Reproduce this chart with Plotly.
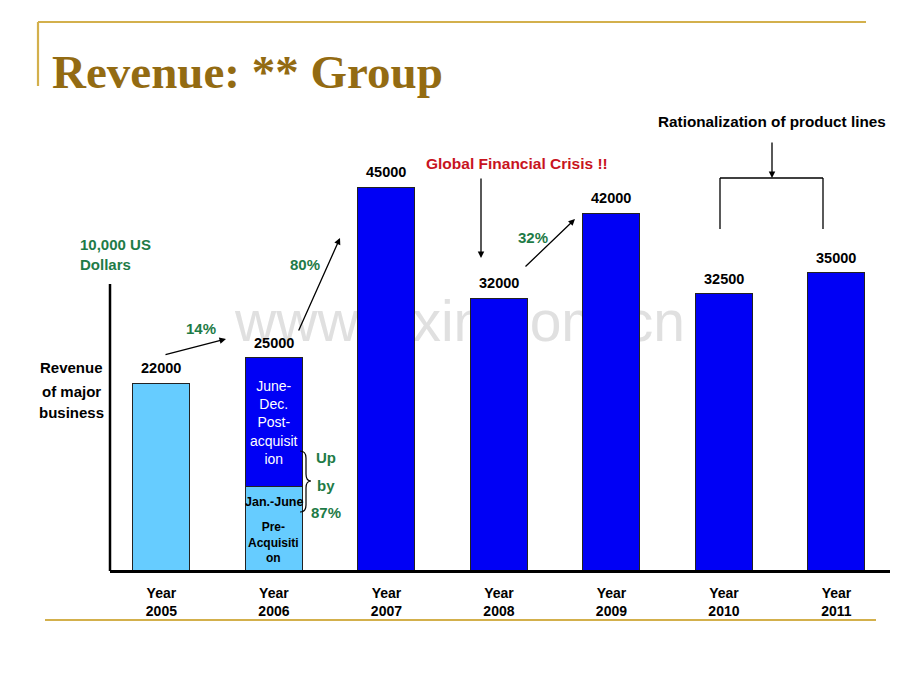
import plotly.graph_objects as go

W, H = 920, 690

# ---------------- data ----------------
years = ['2005', '2006', '2007', '2008', '2009', '2010', '2011']
tick_labels = ['<b>Year<br>2005</b>', '<b>Year<br>2006</b>', '<b>Year<br>2007</b>',
               '<b>Year<br>2008</b>', '<b>Year<br>2009</b>', '<b>Year<br>2010</b>',
               '<b>Year<br>2011</b>']
light_part = [22000, 9800, None, None, None, None, None]      # 2005 + 2006 Jan.-June (pre-acquisition)
dark_part = [None, 15200, 45000, 32000, 42000, 32500, 35000]  # 2006 June-Dec. (post-acquisition) + later years
totals = [22000, 25000, 45000, 32000, 42000, 32500, 35000]
watermark = 'www.zixin.com.cn'

# ---------------- helpers ----------------
def px(x):
    return x / W

def py(y):
    return 1 - y / H

FONT = 'Liberation Sans, Arial, sans-serif'
SERIF = 'Liberation Serif, Times New Roman, serif'
GREEN = '#1E7B47'
RED = '#C8141E'
GOLD = '#D3B04C'
TITLE = '#936B12'
LIGHT = '#66CCFF'
BLUE = '#0000F5'

PLOT_LEFT, PLOT_RIGHT = 110, 890
PLOT_BOTTOM, PLOT_TOP = 570, 80
SCALE = 0.0085  # px per unit
YMAX = (PLOT_BOTTOM - PLOT_TOP) / SCALE

fig = go.Figure()
# watermark in the base (lowest) subplot so it sits behind the bars
fig.add_trace(go.Scatter(x=[460], y=[327], mode='text', text=[watermark], xaxis='x', yaxis='y',
                         textfont=dict(family=FONT, size=57, color='#E0E0E0'),
                         cliponaxis=False, hoverinfo='skip'))
fig.add_trace(go.Bar(x=years, y=light_part, xaxis='x2', yaxis='y2',
                     marker=dict(color=LIGHT, line=dict(color='#222', width=1)), hoverinfo='skip'))
fig.add_trace(go.Bar(x=years, y=dark_part, xaxis='x2', yaxis='y2',
                     marker=dict(color=BLUE, line=dict(color='#222', width=1)), hoverinfo='skip'))

annotations = []

def ann(text, x, y, size=15, color='black', bold=True, family=FONT, **kw):
    t = f'<b>{text}</b>' if bold else text
    d = dict(text=t, x=px(x), y=py(y), xref='paper', yref='paper', showarrow=False,
             xanchor='center', yanchor='middle',
             font=dict(family=family, size=size, color=color))
    d.update(kw)
    annotations.append(d)

def arrow(tail, head, width=1.3):
    annotations.append(dict(text='', x=px(head[0]), y=py(head[1]), xref='paper', yref='paper',
                            ax=tail[0] - head[0], ay=tail[1] - head[1], axref='pixel', ayref='pixel',
                            showarrow=True, arrowhead=2, arrowsize=1, arrowwidth=width,
                            arrowcolor='black'))

# value labels from data (x given as category index)
for i, tot in enumerate(totals):
    annotations.append(dict(text=f'<b>{tot}</b>', x=i, y=tot, xref='x2', yref='y2',
                            xanchor='center', yanchor='bottom', yshift=5, showarrow=False,
                            font=dict(family=FONT, size=14.5, color='black')))

# inside 2006 bar
annotations.append(dict(text='June-<br>Dec.<br>Post-<br>acquisit<br>ion', x=1,
                        y=light_part[1] + dark_part[1] / 2, xref='x2', yref='y2', showarrow=False,
                        xanchor='center', yanchor='middle',
                        font=dict(family=FONT, size=14, color='white')))
annotations.append(dict(text='<b>Jan.-June</b>', x=1, y=light_part[1], xref='x2', yref='y2',
                        xanchor='center', yanchor='top', yshift=-6, showarrow=False,
                        font=dict(family=FONT, size=12.5, color='black')))
annotations.append(dict(text='<b>Pre-<br>Acquisiti<br>on</b>', x=1, y=0, xref='x2', yref='y2',
                        xanchor='center', yanchor='bottom', yshift=3, showarrow=False,
                        font=dict(family=FONT, size=12, color='black')))

# title
ann('Revenue: ** Group', 50, 72, size=47, color=TITLE, family=SERIF, xanchor='left')

# side texts
ann('10,000 US<br>Dollars', 78, 255, color=GREEN, xanchor='left', align='left')
ann('Revenue', 71, 367)
ann('of major', 71, 391)
ann('business', 71, 412)

# growth notes
ann('14%', 201, 328, color=GREEN)
arrow((164, 355), (226, 339))
ann('80%', 305, 264, color=GREEN)
arrow((298, 332), (340, 238))
ann('32%', 533, 238, color=GREEN)
arrow((524, 268), (575, 219))

ann('Up', 326, 457, color=GREEN)
ann('by', 326, 485, color=GREEN)
ann('87%', 326, 512, color=GREEN)

ann('Global Financial Crisis !!', 517, 163, size=15.5, color=RED)
arrow((481, 177), (481, 258))

ann('Rationalization of product lines', 772, 121, size=15.3)
arrow((772, 141), (772, 178))

shapes = []
def line(x0, y0, x1, y1, color='black', width=1.3):
    shapes.append(dict(type='line', xref='paper', yref='paper', x0=px(x0), y0=py(y0),
                       x1=px(x1), y1=py(y1), line=dict(color=color, width=width)))

# slide decorations
line(38, 22, 866, 22, GOLD, 2.2)
line(38, 22, 38, 86, GOLD, 2.2)
line(45, 620, 876, 620, GOLD, 2.2)
# y axis stub
line(110, 571, 110, 284, 'black', 2.5)
# bracket
line(720, 178, 823, 178)
line(720, 178, 720, 229)
line(823, 178, 823, 229)

# curly brace
pts = [(300, 451), (306, 451), (306, 458), (306, 474), (306, 481), (311, 481),
       (306, 481), (306, 488), (306, 505), (306, 512), (300, 512)]
P = [(px(a), py(b)) for a, b in pts]
path = (f'M {P[0][0]},{P[0][1]} Q {P[1][0]},{P[1][1]} {P[2][0]},{P[2][1]} '
        f'L {P[3][0]},{P[3][1]} Q {P[4][0]},{P[4][1]} {P[5][0]},{P[5][1]} '
        f'Q {P[6][0]},{P[6][1]} {P[7][0]},{P[7][1]} L {P[8][0]},{P[8][1]} '
        f'Q {P[9][0]},{P[9][1]} {P[10][0]},{P[10][1]}')
shapes.append(dict(type='path', xref='paper', yref='paper', path=path,
                   line=dict(color='black', width=1.2)))

XDOM = [px(PLOT_LEFT), px(PLOT_RIGHT)]
YDOM = [py(PLOT_BOTTOM), py(PLOT_TOP)]

fig.update_layout(
    width=W, height=H, autosize=False,
    margin=dict(l=0, r=0, t=0, b=0),
    paper_bgcolor='white', plot_bgcolor='rgba(0,0,0,0)',
    barmode='stack', bargap=0.493, showlegend=False,
    xaxis=dict(domain=XDOM, range=[PLOT_LEFT, PLOT_RIGHT], visible=False, fixedrange=True),
    yaxis=dict(domain=YDOM, range=[PLOT_BOTTOM, PLOT_TOP], visible=False, fixedrange=True),
    xaxis2=dict(overlaying='x', anchor='y2', type='category', range=[-0.457, 6.476],
                tickvals=years, ticktext=tick_labels, showline=True, linecolor='black', linewidth=2.5,
                showgrid=False, zeroline=False, ticks='', ticklabelstandoff=8,
                tickfont=dict(family=FONT, size=14, color='black'), fixedrange=True),
    yaxis2=dict(overlaying='y', anchor='x2', range=[0, YMAX], visible=False,
                showgrid=False, zeroline=False, fixedrange=True),
    annotations=annotations, shapes=shapes,
)

fig.write_html('out.html', config={'displayModeBar': False},
               post_script="document.body.style.margin='0';document.body.style.overflow='hidden';")
